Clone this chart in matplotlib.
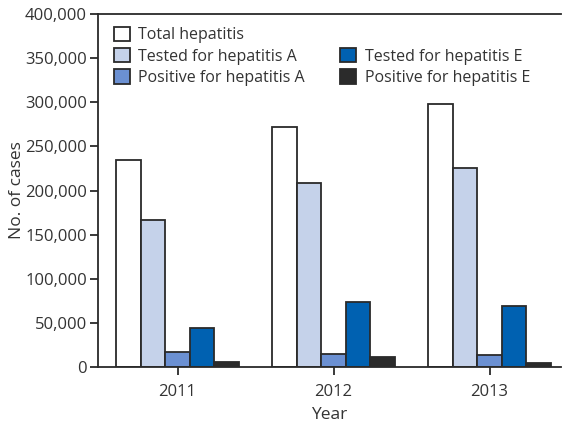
import matplotlib.pyplot as plt
import numpy as np
from matplotlib.patches import Patch

plt.rcParams['font.family'] = ['Open Sans', 'DejaVu Sans']

years = ['2011', '2012', '2013']
total_hep = [234500, 272500, 298500]
tested_a = [166500, 208500, 225000]
positive_a = [17000, 15000, 14000]
tested_e = [44000, 74000, 69000]
positive_e = [5500, 11000, 4500]

series = [total_hep, tested_a, positive_a, tested_e, positive_e]
labels = ['Total hepatitis', 'Tested for hepatitis A', 'Positive for hepatitis A',
          'Tested for hepatitis E', 'Positive for hepatitis E']
colors = ['#ffffff', '#c5d2ea', '#6b90d2', '#0061b1', '#2b2b2b']
edge = '#2a2a2a'

fig = plt.figure(figsize=(5.63, 4.23), dpi=100)
ax = fig.add_axes([0.174, 0.132, 0.823, 0.835])

x = np.arange(len(years))
w = 0.157
for i, (vals, col) in enumerate(zip(series, colors)):
    ax.bar(x + (i - 2) * w, vals, w, color=col, edgecolor=edge, linewidth=1.3)

ax.set_xlim(-0.51, 2.46)
ax.set_ylim(0, 400000)
ax.set_yticks(np.arange(0, 400001, 50000))
ax.set_yticklabels([f'{v:,}' for v in range(0, 400001, 50000)])
ax.set_xticks(x)
ax.set_xticklabels(years)
ax.tick_params(axis='both', direction='out', length=6, width=1.3, color=edge,
               labelsize=12, labelcolor='#333333', pad=2)
ax.tick_params(axis='x', pad=6)
ax.spines['right'].set_visible(False)
for s in ['left', 'bottom', 'top']:
    ax.spines[s].set_linewidth(1.3)
    ax.spines[s].set_color(edge)

ax.set_xlabel('Year', fontsize=12.5, color='#333333', labelpad=5)
ax.set_ylabel('No. of cases', fontsize=12.5, color='#333333', labelpad=0)

handles = [Patch(facecolor=c, edgecolor=edge, linewidth=1.3) for c in colors]
blank = Patch(facecolor='none', edgecolor='none')
leg_handles = [handles[0], handles[1], handles[2], blank, handles[3], handles[4]]
leg_labels = [labels[0], labels[1], labels[2], '', labels[3], labels[4]]
ax.legend(leg_handles, leg_labels, ncol=2, loc='upper left',
          bbox_to_anchor=(0.003, 1.005), frameon=False, fontsize=11.5,
          handlelength=1.0, handleheight=1.0, handletextpad=0.55,
          labelspacing=0.3, columnspacing=2.2, labelcolor='#333333')

fig.savefig('out.png', dpi=100)
